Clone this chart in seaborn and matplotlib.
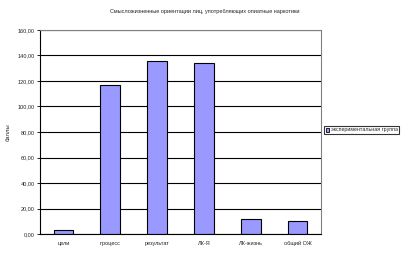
import matplotlib
matplotlib.use("Agg")
import matplotlib.pyplot as plt
import seaborn as sns
import pandas as pd
from matplotlib.patches import Patch
from matplotlib.ticker import FuncFormatter, MultipleLocator

categories = ["цели", "процесс", "результат", "ЛК-Я", "ЛК-жизнь", "общий ОЖ"]
values = [3.1, 116.6, 135.4, 134.1, 11.5, 10.2]
series_name = "экспериментальная группа"
title = "Смысложизненные ориентации лиц, употребляющих опиатные наркотики"
ylabel = "баллы"

sns.set_style("white")
plt.rcParams['font.family'] = ['Arial', 'Liberation Sans', 'DejaVu Sans']

df = pd.DataFrame({"cat": categories, "val": values})

fig = plt.figure(figsize=(4.08, 2.54), dpi=100)
ax = fig.add_axes([40/408, 20/254, 281/408, 204/254])
sns.barplot(data=df, x="cat", y="val", color="#9999FF", edgecolor="black",
            linewidth=0.8, width=0.42, saturation=1, ax=ax)

ax.set_ylim(0, 160)
ax.set_xlim(-0.5, 5.5)
ax.yaxis.set_major_locator(MultipleLocator(20))
ax.yaxis.set_major_formatter(FuncFormatter(lambda v, p: f"{v:.2f}".replace(".", ",")))
ax.grid(axis="y", color="black", linewidth=0.8)
ax.set_axisbelow(True)
for s in ["top", "right"]:
    ax.spines[s].set_color("#808080")
    ax.spines[s].set_linewidth(0.8)
for s in ["left", "bottom"]:
    ax.spines[s].set_color("black")
    ax.spines[s].set_linewidth(0.8)

ax.set_xticks(range(len(categories)))
ax.set_xticklabels(categories, fontsize=4)
ax.tick_params(axis="x", length=0, pad=5)
ax.set_xticks([i + 0.5 for i in range(-1, len(categories))], minor=True)
ax.tick_params(axis="x", which="minor", length=2, width=0.6, color="black", direction="out")
ax.tick_params(axis="y", labelsize=4, length=2, width=0.6, color="black", direction="out", left=True, pad=2)
ax.set_xlabel("")
ax.set_ylabel(ylabel, fontsize=4.2)
ax.yaxis.set_label_coords((11 - 40) / 281, 0.5)

fig.text(205/408, 1 - 12/254, title, ha="center", va="center", fontsize=4.0)

handle = Patch(facecolor="#9999FF", edgecolor="black", linewidth=0.6)
leg = fig.legend([handle], [series_name], loc="center left",
                 bbox_to_anchor=(324/408, 1 - 130/254), fontsize=3.8,
                 frameon=True, fancybox=False, edgecolor="black",
                 handlelength=0.7, handleheight=0.7, handletextpad=0.25,
                 borderpad=0.3, borderaxespad=0)
leg.get_frame().set_linewidth(0.8)

fig.savefig("out.png", dpi=100)
